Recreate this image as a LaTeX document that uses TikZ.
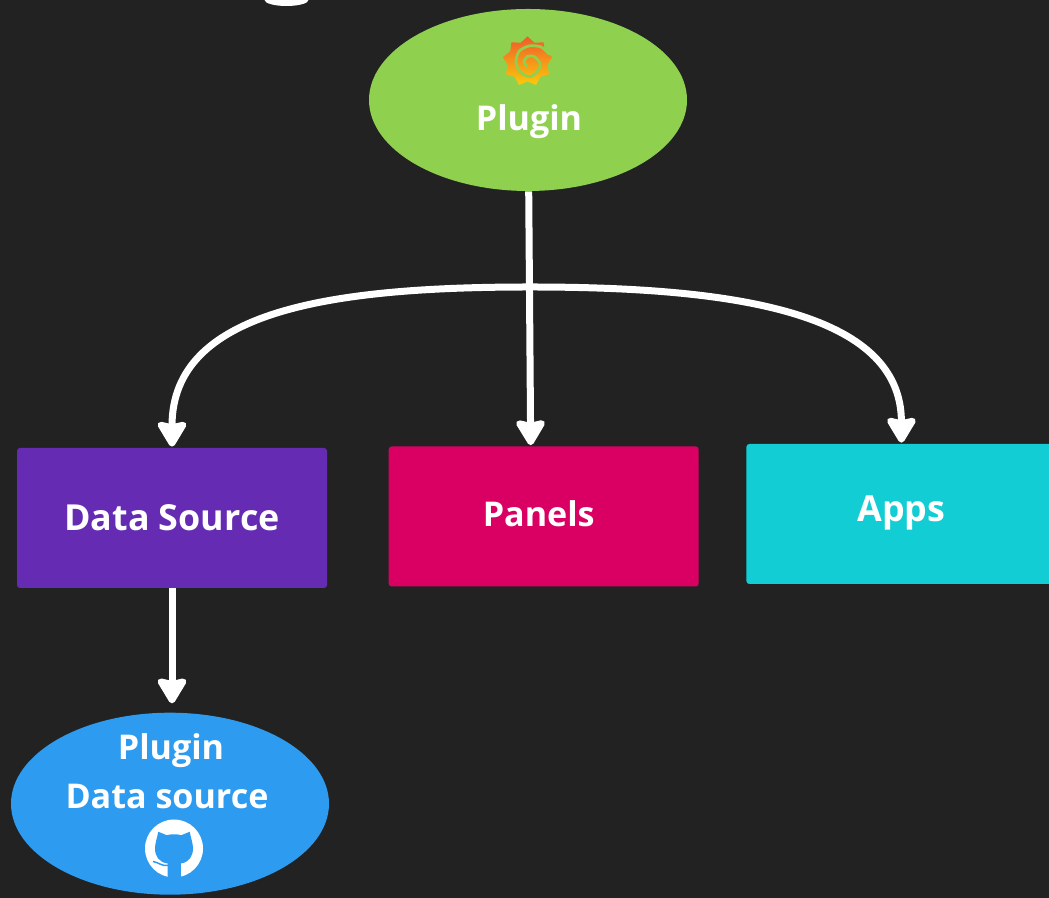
\documentclass[tikz,border=0pt]{standalone}
\usepackage{fontspec}
\setmainfont{Open Sans}
\usetikzlibrary{arrows.meta,shapes.geometric,positioning}
\definecolor{backdrop}{HTML}{222222}
\definecolor{leaf}{HTML}{8FD14F}
\definecolor{violet}{HTML}{652CB3}
\definecolor{crimson}{HTML}{DA0063}
\definecolor{teal}{HTML}{12CDD4}
\definecolor{sky}{HTML}{2D9BF0}
\definecolor{flame}{HTML}{F15B2A}
\definecolor{sun}{HTML}{FBCA0A}

\begin{document}
\begin{tikzpicture}[ -, node distance = 1cm,
                    auto, main/.style = {text=white, font=\fontsize{19.4}{28}\selectfont\bfseries, inner sep=0pt},
                    large/.style = {main, font=\fontsize{20.4}{28}\selectfont\bfseries},
                    box/.style = {rectangle, rounded corners=0.06cm, minimum width=6.2cm, minimum height=2.8cm},
                    oval/.style = {ellipse, minimum width=6.36cm, minimum height=3.64cm},
                    flow/.style = {white, line width=0.14cm, -{Stealth[length=0.58cm, width=0.68cm, inset=0.07cm, round]}}]
\useasboundingbox (0,0) rectangle (20.98,17.96);
\clip (0,0) rectangle (20.98,17.96);
\fill[backdrop] (0,0) rectangle (20.98,17.96);
\fill[white] (5.73,17.96) ellipse (0.44cm and 0.12cm);

\node[oval, fill=leaf] (plugin) at (10.56,15.96) {};
\node[box, fill=violet] (datasource) at (3.44,7.6) {};
\node[box, fill=crimson, right=1.22cm of datasource, yshift=0.03cm] (panels) {};
\node[box, fill=teal, right=0.94cm of panels, yshift=0.05cm] (apps) {};
\node[oval, fill=sky, below=2.48cm of datasource, xshift=-0.04cm] (plugindata) {};
\node[main] (plugintext) at ([shift={(0.02,-0.44)}]plugin.center) {Plugin};
\node[large] (datasourcetext) at (datasource.center) {Data Source};
\node[main] (panelstext) at ([shift={(-0.1,0.06)}]panels.center) {Panels};
\node[large] (appstext) at ([shift={(0,0.02)}]apps.center) {Apps};
\node[main] (plugindatatop) at ([shift={(0.02,1.06)}]plugindata.center) {Plugin};
\node[main] (plugindatatext) at ([shift={(-0.06,0.14)}]plugindata.center) {Data source};
\coordinate (hub) at (10.6,12.22);

\path[flow, shorten >=0.02cm]
(plugin) edge ([xshift=-0.26cm]panels.north)
(hub) edge[out=180, in=90, out distance=4cm, in distance=2.74cm] (datasource.north)
(hub) edge[out=0, in=90, out distance=4cm, in distance=2.66cm] (apps.north);
\draw[flow, shorten >=0.18cm] (datasource) -- ([xshift=0.04cm]plugindata.north);

\node[star, star points=9, star point ratio=1.25, minimum size=1cm, inner sep=0pt,
      top color=flame, bottom color=sun, draw=none] (grafana) at (10.55,16.73) {};
\draw[leaf, line width=0.055cm, line cap=round] plot[smooth] coordinates
  {([shift={(0.43,0.15)}]grafana.center) ([shift={(0.27,0.29)}]grafana.center)
   ([shift={(0.03,0.31)}]grafana.center) ([shift={(-0.17,0.2)}]grafana.center)
   ([shift={(-0.23,-0.03)}]grafana.center) ([shift={(-0.13,-0.23)}]grafana.center)
   ([shift={(0.07,-0.3)}]grafana.center) ([shift={(0.22,-0.17)}]grafana.center)
   ([shift={(0.25,-0.03)}]grafana.center) ([shift={(0.13,0.1)}]grafana.center)
   ([shift={(0,0.1)}]grafana.center) ([shift={(-0.07,0)}]grafana.center)
   ([shift={(-0.02,-0.09)}]grafana.center)};

\node[circle, fill=white, minimum size=1.16cm, inner sep=0pt] (github) at (3.48,0.99) {};
\fill[sky] ([shift={(-0.126,-0.6)}]github.center) -- ([shift={(-0.126,-0.3)}]github.center)
  .. controls ([shift={(-0.3,-0.28)}]github.center) and ([shift={(-0.38,-0.15)}]github.center) .. ([shift={(-0.38,0)}]github.center)
  .. controls ([shift={(-0.38,0.1)}]github.center) and ([shift={(-0.34,0.2)}]github.center) .. ([shift={(-0.314,0.334)}]github.center)
  -- ([shift={(-0.146,0.266)}]github.center)
  .. controls ([shift={(-0.06,0.29)}]github.center) and ([shift={(0.06,0.29)}]github.center) .. ([shift={(0.146,0.266)}]github.center)
  -- ([shift={(0.314,0.334)}]github.center)
  .. controls ([shift={(0.34,0.2)}]github.center) and ([shift={(0.38,0.1)}]github.center) .. ([shift={(0.38,0)}]github.center)
  .. controls ([shift={(0.38,-0.15)}]github.center) and ([shift={(0.3,-0.28)}]github.center) .. ([shift={(0.136,-0.3)}]github.center)
  -- ([shift={(0.136,-0.6)}]github.center) -- cycle;
\draw[sky, line width=0.03cm] ([shift={(-0.42,-0.26)}]github.center)
  .. controls ([shift={(-0.3,-0.28)}]github.center) and ([shift={(-0.24,-0.36)}]github.center) .. ([shift={(-0.12,-0.34)}]github.center);
\end{tikzpicture}
\end{document}
